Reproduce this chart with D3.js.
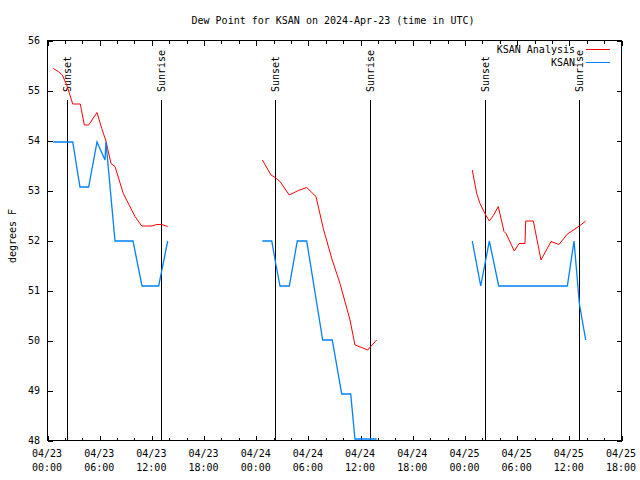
<!DOCTYPE html>
<html>
<head>
<meta charset="utf-8">
<script src="https://cdn.jsdelivr.net/npm/d3@7"></script>
<style>
  html, body { margin: 0; padding: 0; background: #fff; }
  svg { display: block; }
  text { font-family: "DejaVu Sans Mono", "Liberation Mono", monospace; font-size: 10px; fill: #000; }
</style>
</head>
<body>
<svg id="chart" width="640" height="480"></svg>
<script>
// ---- Data (hours after 2024-04-23 00:00 UTC) ----
const startTime = Date.UTC(2024, 3, 23, 0, 0);
const endHours = 66;

const analysisHours = [
  0.72, 1.30, 1.76, 2.27, 2.96, 3.83, 4.29, 4.79, 5.75, 6.29, 6.78, 7.36, 7.82, 8.77, 10.12, 10.89, 12.04, 12.61, 13.19, 13.88,
  null,
  24.76, 25.76, 26.22, 26.79, 27.86, 28.90, 29.86, 30.93, 31.77, 32.74, 33.69, 34.84, 35.41, 36.19, 36.88, 37.22, 37.91,
  null,
  48.90, 49.41, 49.79, 50.44, 50.86, 51.32, 51.89, 52.55, 52.78, 53.73, 54.27, 54.96, 55.04, 55.92, 56.80, 57.95, 58.87, 59.83, 60.71, 61.29, 61.94
];
const analysisValues = [
  55.43, 55.37, 55.30, 55.10, 54.72, 54.72, 54.30, 54.30, 54.55, 54.23, 53.98, 53.53, 53.47, 52.93, 52.47, 52.28, 52.28, 52.31, 52.31, 52.27,
  null,
  53.60, 53.30, 53.25, 53.17, 52.90, 52.99, 53.05, 52.87, 52.23, 51.63, 51.13, 50.40, 49.90, 49.85, 49.80, 49.87, 50.00,
  null,
  53.40, 52.93, 52.73, 52.50, 52.38, 52.49, 52.67, 52.17, 52.13, 51.78, 51.93, 51.93, 52.38, 52.38, 51.60, 51.97, 51.91, 52.12, 52.22, 52.29, 52.38
];

const obsHours = [
  0.72, 2.96, 3.79, 4.79, 5.75, 6.67, 6.78, 7.82, 9.89, 10.92, 12.84, 13.88,
  null,
  24.76, 25.84, 26.30, 26.79, 27.86, 28.78, 29.86, 31.70, 32.80, 33.89, 34.92, 35.41, 37.91,
  null,
  48.90, 49.87, 50.86, 51.94, 59.83, 60.60, 61.21, 61.94
];
const obsValues = [
  53.96, 53.96, 53.06, 53.06, 53.96, 53.60, 53.96, 51.98, 51.98, 51.08, 51.08, 51.98,
  null,
  51.98, 51.98, 51.53, 51.08, 51.08, 51.98, 51.98, 50.00, 50.00, 48.92, 48.92, 48.02, 48.02,
  null,
  51.98, 51.08, 51.98, 51.08, 51.08, 51.98, 50.73, 50.00
];

const sunEventHours = [2.28, 13.12, 26.25, 37.15, 50.38, 61.18];
const sunEventLabels = ["Sunset", "Sunrise", "Sunset", "Sunrise", "Sunset", "Sunrise"];

const yTickValues = [48, 49, 50, 51, 52, 53, 54, 55, 56];
const seriesNames = ["KSAN Analysis", "KSAN"];
const seriesColors = ["#ff0000", "#0080ff"];

const titleText = "Dew Point for KSAN on 2024-Apr-23 (time in UTC)";
const yLabelText = "degrees F";

// ---- Layout ----
const svg = d3.select("#chart");
const plotL = 47, plotR = 621, plotT = 40, plotB = 440;

const toDate = h => new Date(startTime + h * 3600e3);
const x = d3.scaleUtc().domain([toDate(0), toDate(endHours)]).range([plotL, plotR]);
const y = d3.scaleLinear().domain([48, 56]).range([plotB, plotT]);

const majorTicks = d3.range(0, endHours + 0.01, 6).map(toDate);
const minorTicks = d3.range(0, endHours + 0.01, 2).filter(h => h % 6 !== 0).map(toDate);
const fmtDate = d3.utcFormat("%m/%d");
const fmtTime = d3.utcFormat("%H:%M");

// Border
svg.append("rect")
  .attr("x", plotL + 0.5).attr("y", plotT + 0.5)
  .attr("width", plotR - plotL).attr("height", plotB - plotT)
  .attr("fill", "none").attr("stroke", "#000").attr("stroke-width", 1);

// Bottom axis (inward ticks)
svg.append("g").attr("transform", `translate(0.5,${plotB + 0.5})`)
  .call(d3.axisTop(x).tickValues(majorTicks).tickSize(5).tickFormat(""));
svg.append("g").attr("transform", `translate(0.5,${plotB + 0.5})`)
  .call(d3.axisTop(x).tickValues(minorTicks).tickSize(3).tickFormat(""));
// Top axis mirror
svg.append("g").attr("transform", `translate(0.5,${plotT + 0.5})`)
  .call(d3.axisBottom(x).tickValues(majorTicks).tickSize(5).tickFormat(""));
svg.append("g").attr("transform", `translate(0.5,${plotT + 0.5})`)
  .call(d3.axisBottom(x).tickValues(minorTicks).tickSize(3).tickFormat(""));
// Left / right y axes (inward ticks)
svg.append("g").attr("transform", `translate(${plotL + 0.5},0.5)`)
  .call(d3.axisRight(y).tickValues(yTickValues).tickSize(5).tickFormat(""));
svg.append("g").attr("transform", `translate(${plotR + 0.5},0.5)`)
  .call(d3.axisLeft(y).tickValues(yTickValues).tickSize(5).tickFormat(""));
svg.selectAll(".domain").remove();
svg.selectAll(".tick line").attr("stroke", "#000").attr("shape-rendering", "crispEdges");

// X tick labels (two lines)
const xl = svg.append("g");
majorTicks.forEach(d => {
  const t = xl.append("text").attr("x", x(d)).attr("text-anchor", "middle");
  t.append("tspan").attr("x", x(d)).attr("y", 457).text(fmtDate(d));
  t.append("tspan").attr("x", x(d)).attr("y", 471).text(fmtTime(d));
});
// Y tick labels
svg.append("g").selectAll("text").data(yTickValues).join("text")
  .attr("x", 40).attr("y", d => y(d)).attr("dy", "0.35em")
  .attr("text-anchor", "end").text(d => d);

// Title
svg.append("text").attr("x", 333).attr("y", 24).attr("text-anchor", "middle").text(titleText);
// Y label
svg.append("text").attr("transform", "translate(12,236) rotate(-90)")
  .attr("text-anchor", "middle").attr("dy", "0.35em").text(yLabelText);

// Sunrise / sunset lines
const sun = svg.append("g");
sunEventHours.forEach((h, i) => {
  const xp = Math.round(x(toDate(h))) + 0.5;
  sun.append("line").attr("x1", xp).attr("x2", xp).attr("y1", 100).attr("y2", plotB)
    .attr("stroke", "#000").attr("stroke-width", 1);
  sun.append("text").attr("transform", `translate(${xp},92) rotate(-90)`)
    .attr("text-anchor", "start").attr("dy", "0.35em").text(sunEventLabels[i]);
});

// Series
const line = d3.line()
  .defined(d => d[0] !== null && d[1] !== null)
  .x(d => x(toDate(d[0]))).y(d => y(d[1]));
const analysisPts = analysisHours.map((h, i) => [h, analysisValues[i]]);
const obsPts = obsHours.map((h, i) => [h, obsValues[i]]);

svg.append("path").datum(analysisPts).attr("d", line)
  .attr("fill", "none").attr("stroke", seriesColors[0]).attr("stroke-width", 1);
svg.append("path").datum(obsPts).attr("d", line)
  .attr("fill", "none").attr("stroke", seriesColors[1]).attr("stroke-width", 1.3);

// Legend
const legendY = [49, 62];
seriesNames.forEach((name, i) => {
  svg.append("text").attr("x", 575).attr("y", legendY[i]).attr("dy", "0.35em")
    .attr("text-anchor", "end").text(name);
  svg.append("line").attr("x1", 586).attr("x2", 610)
    .attr("y1", legendY[i] + 0.5).attr("y2", legendY[i] + 0.5)
    .attr("stroke", seriesColors[i]).attr("stroke-width", 1);
});
</script>
</body>
</html>
